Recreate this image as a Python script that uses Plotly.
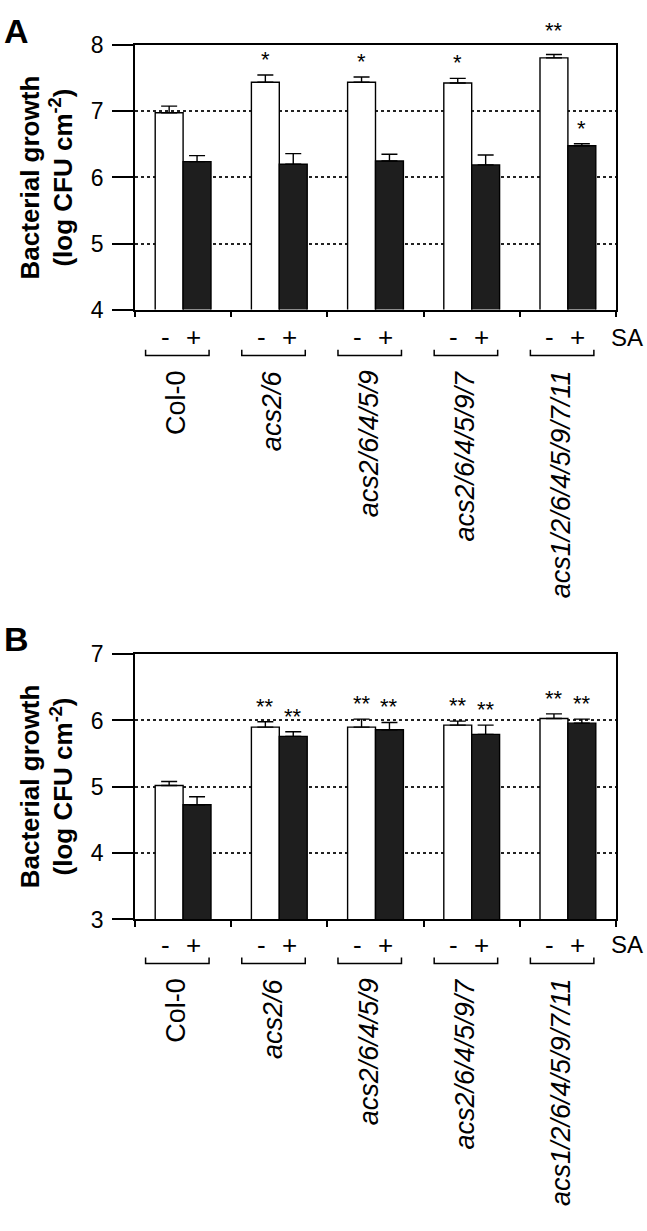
import plotly.graph_objects as go

# ---------------- data ----------------
genotypes = ["Col-0", "acs2/6", "acs2/6/4/5/9", "acs2/6/4/5/9/7", "acs1/2/6/4/5/9/7/11"]
italic = [False, True, True, True, True]

a_minus = [6.98, 7.44, 7.44, 7.43, 7.81]
a_minus_err = [0.10, 0.11, 0.08, 0.07, 0.05]
a_plus = [6.24, 6.20, 6.25, 6.19, 6.48]
a_plus_err = [0.09, 0.16, 0.10, 0.15, 0.03]

b_minus = [5.02, 5.90, 5.90, 5.93, 6.03]
b_minus_err = [0.06, 0.08, 0.12, 0.06, 0.07]
b_plus = [4.73, 5.76, 5.86, 5.79, 5.96]
b_plus_err = [0.12, 0.07, 0.11, 0.14, 0.06]

# significance marks: (group index, series, text)
a_sig = [(1, "minus", "*"), (2, "minus", "*"), (3, "minus", "*"), (4, "minus", "**"), (4, "plus", "*")]
b_sig = [(g, s, "**") for g in range(1, 5) for s in ("minus", "plus")]

a_ticks = [4, 5, 6, 7, 8]
b_ticks = [3, 4, 5, 6, 7]

# ---------------- layout helpers ----------------
W, H = 647, 1231
FONT = "Liberation Sans, Arial, sans-serif"


def py(px):
    return 1 - px / H


def px_(x):
    return x / W


x_dom = [px_(135), px_(616)]
a_top, a_bot = 33, 303
b_top, b_bot = 655, 926

fig = go.Figure()
idx = list(range(len(genotypes)))


def add_panel(xa, ya, minus, minus_err, plus, plus_err):
    for vals, errs, color in ((minus, minus_err, "white"), (plus, plus_err, "#1e1e1e")):
        fig.add_trace(go.Bar(
            x=idx, y=vals, xaxis=xa, yaxis=ya,
            marker=dict(color=color, line=dict(color="black", width=1.4)),
            error_y=dict(type="data", array=errs, arrayminus=[0] * len(errs), symmetric=False,
                         color="black", thickness=1.4, width=8),
            showlegend=False,
        ))


add_panel("x", "y", a_minus, a_minus_err, a_plus, a_plus_err)
add_panel("x2", "y2", b_minus, b_minus_err, b_plus, b_plus_err)

axis_common = dict(showline=True, linecolor="black", linewidth=1.5, mirror=True,
                   zeroline=False)
xcommon = dict(axis_common, range=[-0.5, 4.5], tickvals=[i - 0.5 for i in range(6)],
               showticklabels=False, ticks="outside", ticklen=6, tickwidth=1.5,
               tickcolor="black", showgrid=False, domain=x_dom)
ycommon = dict(axis_common, ticks="outside", ticklen=21, tickwidth=1.5, tickcolor="black",
               showgrid=True, gridcolor="#222222", gridwidth=1.5, griddash="dot",
               ticklabelstandoff=4,
               tickfont=dict(family=FONT, size=23, color="black"))

fig.update_layout(
    width=W, height=H, margin=dict(l=0, r=0, t=0, b=0),
    paper_bgcolor="white", plot_bgcolor="white",
    barmode="group", bargap=0.42, bargroupgap=0,
    xaxis=dict(xcommon, anchor="y"),
    xaxis2=dict(xcommon, anchor="y2"),
    yaxis=dict(ycommon, range=[a_ticks[0], a_ticks[-1]], tickvals=a_ticks,
               domain=[py(a_bot), py(a_top)], anchor="x"),
    yaxis2=dict(ycommon, range=[b_ticks[0], b_ticks[-1]], tickvals=b_ticks,
                domain=[py(b_bot), py(b_top)], anchor="x2"),
    font=dict(family=FONT, color="black"),
)

ann = []
shapes = []
BW = 0.29  # bar width in group units (1 - bargap) / 2


def panel_text(xref, yref, top_px, minus, minus_err, plus, plus_err, sig, letter, letter_y):
    # panel letter
    ann.append(dict(text="<b>%s</b>" % letter, x=px_(16), y=py(letter_y), xref="paper", yref="paper",
                    showarrow=False, font=dict(size=34, family=FONT), xanchor="center", yanchor="middle"))
    # y title
    ann.append(dict(text="<b>Bacterial growth<br>(log CFU cm<sup>-2</sup>)</b>",
                    x=px_(47), y=py(top_px + 135), xref="paper", yref="paper", showarrow=False,
                    textangle=-90, font=dict(size=26, family=FONT), xanchor="center", yanchor="middle"))
    sa_y = top_px + 298 if letter == "A" else top_px + 297
    br_y = sa_y + 19
    lab_y = sa_y + 32
    for i, g in enumerate(genotypes):
        for off, t in ((-BW / 2, "-"), (BW / 2, "+")):
            ann.append(dict(text=t, x=i + off, y=py(sa_y), xref=xref, yref="paper", showarrow=False,
                            xshift=-4, font=dict(size=26, family=FONT), xanchor="center", yanchor="middle"))
        x0, x1 = i - 0.39, i + 0.27
        shapes.append(dict(type="path", xref=xref, yref="paper",
                           path="M %f,%f L %f,%f L %f,%f L %f,%f" % (x0, py(br_y - 6), x0, py(br_y),
                                                                     x1, py(br_y), x1, py(br_y - 6)),
                           line=dict(color="black", width=1.5)))
        txt = "<i>%s</i>" % g if italic[i] else g
        ann.append(dict(text=txt, x=i, y=py(lab_y), xref=xref, yref="paper", showarrow=False,
                        xshift=-7, textangle=-90, font=dict(size=27, family=FONT),
                        xanchor="center", yanchor="top"))
    ann.append(dict(text="SA", x=px_(627), y=py(sa_y), xref="paper", yref="paper", showarrow=False,
                    font=dict(size=24, family=FONT), xanchor="center", yanchor="middle"))
    yref_data = "y" if xref == "x" else "y2"
    for g, s, t in sig:
        if s == "minus":
            xv, top = g - BW / 2, minus[g] + minus_err[g]
        else:
            xv, top = g + BW / 2, plus[g] + plus_err[g]
        extra = 9 if (letter == "A" and t == "**") else 0
        ann.append(dict(text=t, x=xv, y=top, xref=xref, yref=yref_data, showarrow=False,
                        yshift=1 + extra, font=dict(size=22, family=FONT),
                        xanchor="center", yanchor="bottom"))


panel_text("x", "y", a_top, a_minus, a_minus_err, a_plus, a_plus_err, a_sig, "A", 18)
panel_text("x2", "y2", b_top, b_minus, b_minus_err, b_plus, b_plus_err, b_sig, "B", 640)

fig.update_layout(annotations=ann, shapes=shapes)
fig.write_html("out.html", config={"displayModeBar": False},
               post_script="document.body.style.margin='0';document.body.style.overflow='hidden';")
